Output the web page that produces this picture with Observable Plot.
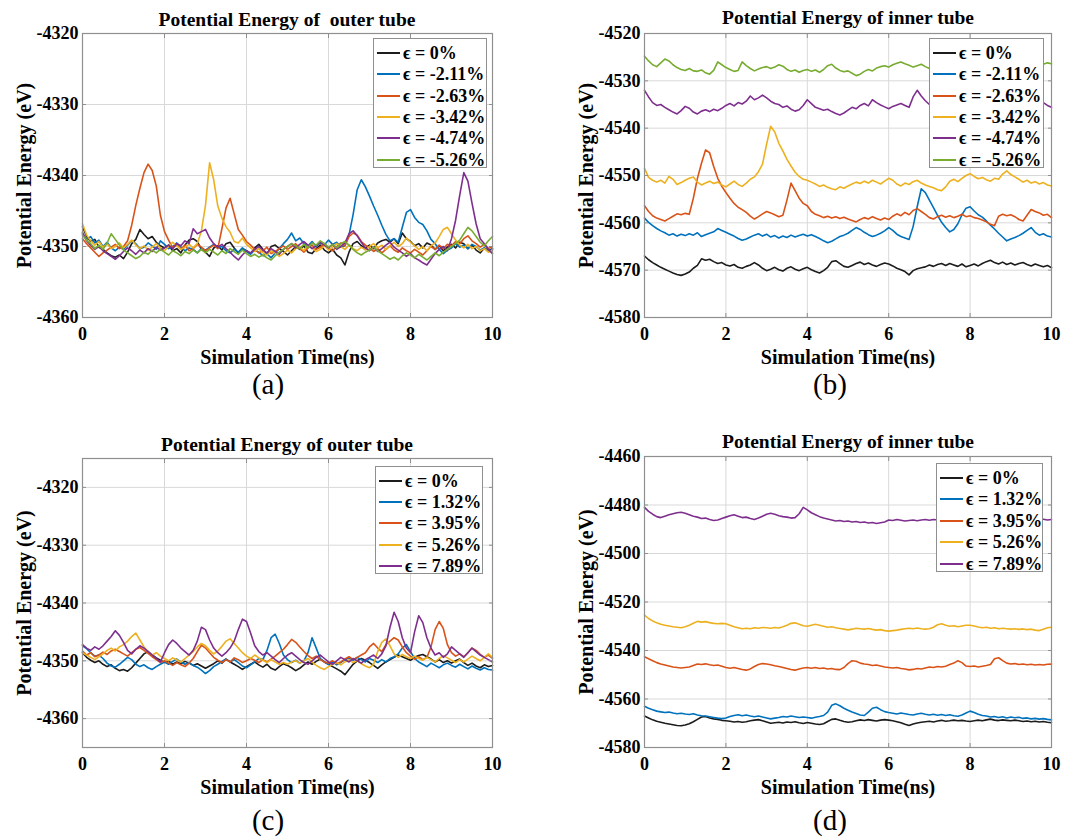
<!DOCTYPE html>
<html>
<head>
<meta charset="utf-8">
<script src="https://cdn.jsdelivr.net/npm/d3@7"></script>
<script src="https://cdn.jsdelivr.net/npm/@observablehq/plot@0.6"></script>
<style>
  html, body { margin: 0; padding: 0; background: #fff; }
  #fig { position: relative; width: 1065px; height: 840px; background: #fff; overflow: hidden;
         font-family: "Liberation Serif", "Times New Roman", "DejaVu Serif", serif; color: #000; }
  .panel { position: absolute; }
  .title { position: absolute; font-weight: bold; font-size: 19.5px; white-space: pre; transform: translate(-50%, -50%);
           font-family: "Liberation Serif", "DejaVu Serif", serif; }
  .tag { position: absolute; font-size: 29px; transform: translate(-50%, -50%);
         font-family: "Liberation Serif", "DejaVu Serif", serif; }
  .legend { position: absolute; background: #fff; border: 1px solid #8f8f8f; box-sizing: border-box; }
  .legend .row { position: absolute; left: 3px; height: 20px; display: flex; align-items: center;
                 font-weight: bold; font-size: 18px; white-space: pre;
                 font-family: "Liberation Serif", "DejaVu Serif", serif; }
  .legend .swatch { display: block; width: 23px; height: 2px; margin-right: 3px; flex: none; }
</style>
</head>
<body>
<div id="fig"></div>
<script>
// Sampling interval of the energy traces (ns); sample i sits at i * timeStepNs.
const timeStepNs = 0.1;
const xTicks = [0, 2, 4, 6, 8, 10];
const seriesColors = ["#1c1c1c", "#0072BD", "#D95319", "#EDB120", "#7E2F8E", "#77AC30"];

// ---- (a) outer tube, compressive strain ----
const strainLabelsCompress = ["0%", "-2.11%", "-2.63%", "-3.42%", "-4.74%", "-5.26%"];
const outerComp0 = [
-4347.2,-4348.6,-4349.3,-4349.0,-4350.1,-4350.4,-4350.9,-4351.3,-4351.5,-4351.2,
-4351.7,-4350.8,-4349.6,-4349.0,-4347.6,-4348.3,-4348.9,-4348.6,-4349.4,-4349.9,
-4350.2,-4349.8,-4350.6,-4350.3,-4350.9,-4349.8,-4349.1,-4348.9,-4349.3,-4350.4,
-4350.8,-4351.4,-4350.2,-4349.9,-4350.5,-4349.6,-4349.4,-4350.2,-4350.9,-4350.3,
-4350.6,-4351.0,-4350.2,-4349.7,-4350.4,-4351.1,-4350.0,-4349.8,-4350.3,-4350.7,
-4351.2,-4350.6,-4350.0,-4350.4,-4349.9,-4350.8,-4351.0,-4350.3,-4349.8,-4350.5,
-4350.9,-4350.4,-4351.2,-4351.6,-4352.6,-4350.8,-4349.6,-4349.3,-4349.9,-4350.2,
-4349.8,-4350.3,-4349.5,-4349.2,-4349.0,-4349.4,-4348.9,-4349.6,-4348.1,-4348.9,
-4349.3,-4349.9,-4349.6,-4350.2,-4349.5,-4349.8,-4350.4,-4349.9,-4350.6,-4350.1,
-4349.7,-4350.2,-4349.4,-4349.6,-4350.3,-4349.8,-4350.5,-4350.9,-4350.2,-4350.6,
-4350.3];
const outerComp211 = [
-4348.2,-4349.0,-4348.6,-4349.5,-4349.1,-4350.0,-4349.4,-4350.2,-4350.6,-4350.1,
-4350.4,-4349.8,-4349.2,-4349.6,-4350.3,-4350.1,-4349.5,-4349.9,-4350.4,-4349.2,
-4349.7,-4350.3,-4350.0,-4349.5,-4350.1,-4350.6,-4350.2,-4350.4,-4350.9,-4350.3,
-4350.5,-4350.1,-4349.7,-4350.2,-4350.0,-4350.6,-4350.9,-4350.4,-4350.8,-4350.2,
-4350.7,-4351.1,-4350.5,-4350.8,-4351.3,-4351.0,-4351.6,-4350.9,-4350.3,-4349.6,
-4349.0,-4348.1,-4349.2,-4348.8,-4349.6,-4349.9,-4349.3,-4350.0,-4349.5,-4349.8,
-4349.1,-4349.7,-4349.4,-4350.1,-4349.9,-4348.4,-4345.5,-4342.0,-4340.6,-4341.6,
-4342.9,-4344.3,-4345.6,-4347.0,-4348.3,-4349.2,-4348.9,-4349.4,-4347.3,-4345.2,
-4344.8,-4345.9,-4346.6,-4346.9,-4347.8,-4349.0,-4349.6,-4350.4,-4351.0,-4350.5,
-4350.2,-4349.6,-4350.1,-4349.8,-4350.3,-4349.7,-4350.0,-4350.5,-4350.2,-4350.7,
-4350.4];
const outerComp263 = [
-4348.9,-4349.6,-4350.2,-4350.8,-4351.4,-4350.9,-4350.5,-4350.1,-4349.7,-4350.3,
-4350.0,-4349.2,-4347.0,-4344.2,-4341.8,-4339.6,-4338.4,-4339.3,-4341.5,-4345.6,
-4347.9,-4349.1,-4350.2,-4349.7,-4350.4,-4349.8,-4350.6,-4350.3,-4349.7,-4350.1,
-4350.6,-4350.2,-4349.8,-4350.3,-4347.5,-4344.6,-4343.2,-4345.4,-4347.6,-4348.4,
-4349.3,-4349.8,-4350.4,-4350.9,-4350.6,-4350.1,-4351.0,-4350.7,-4350.3,-4349.9,
-4350.4,-4350.0,-4349.6,-4350.3,-4350.8,-4350.2,-4349.8,-4350.4,-4350.1,-4349.6,
-4350.2,-4350.6,-4350.0,-4349.5,-4349.9,-4348.6,-4348.1,-4348.4,-4349.3,-4349.8,
-4350.2,-4350.7,-4350.3,-4350.9,-4350.4,-4349.9,-4350.5,-4350.8,-4350.2,-4350.6,
-4350.9,-4350.4,-4350.8,-4351.2,-4350.6,-4350.0,-4350.4,-4349.8,-4350.3,-4349.7,
-4349.9,-4349.3,-4349.6,-4348.9,-4348.5,-4349.2,-4349.6,-4350.1,-4349.7,-4350.3,
-4350.0];
const outerComp342 = [
-4346.8,-4348.4,-4349.2,-4349.8,-4349.3,-4350.1,-4349.6,-4350.3,-4350.0,-4349.5,
-4350.2,-4349.7,-4349.1,-4349.8,-4350.3,-4349.9,-4350.5,-4350.1,-4349.6,-4350.2,
-4350.6,-4350.0,-4349.4,-4349.9,-4350.4,-4350.1,-4349.7,-4350.2,-4349.6,-4347.8,
-4344.2,-4338.2,-4340.6,-4344.3,-4346.0,-4347.2,-4348.0,-4349.3,-4349.5,-4348.8,
-4349.7,-4350.2,-4350.7,-4350.3,-4350.9,-4351.2,-4350.6,-4350.9,-4351.4,-4351.0,
-4350.5,-4350.9,-4350.3,-4350.0,-4350.6,-4349.8,-4350.2,-4350.7,-4350.4,-4349.9,
-4350.5,-4350.1,-4349.6,-4350.0,-4350.4,-4349.8,-4350.3,-4350.6,-4350.1,-4350.5,
-4350.0,-4349.6,-4350.2,-4349.8,-4350.4,-4349.9,-4349.4,-4350.0,-4349.6,-4348.8,
-4349.4,-4349.9,-4350.4,-4350.0,-4350.6,-4349.9,-4349.5,-4348.6,-4347.6,-4347.3,
-4348.2,-4349.1,-4349.8,-4350.2,-4349.7,-4350.3,-4350.0,-4350.6,-4350.3,-4350.8,
-4350.5];
const outerComp474 = [
-4348.0,-4349.2,-4349.8,-4350.4,-4350.0,-4350.6,-4351.0,-4351.4,-4351.8,-4351.3,
-4350.7,-4350.2,-4350.6,-4351.1,-4350.5,-4350.9,-4350.3,-4350.7,-4350.1,-4350.5,
-4350.2,-4349.8,-4350.3,-4349.6,-4349.9,-4349.2,-4349.6,-4347.5,-4348.2,-4347.9,
-4347.6,-4348.8,-4349.6,-4350.1,-4349.7,-4350.3,-4350.8,-4351.4,-4351.9,-4351.2,
-4350.6,-4350.9,-4350.4,-4350.0,-4350.5,-4350.9,-4350.3,-4350.7,-4351.1,-4350.4,
-4350.0,-4349.6,-4350.2,-4349.7,-4349.3,-4349.8,-4350.3,-4349.9,-4349.4,-4349.8,
-4350.2,-4349.7,-4350.4,-4350.0,-4349.5,-4348.2,-4347.8,-4348.5,-4349.4,-4350.2,
-4350.6,-4350.1,-4350.7,-4350.3,-4349.8,-4349.4,-4350.1,-4350.5,-4350.9,-4351.4,
-4351.0,-4351.6,-4351.9,-4352.3,-4352.6,-4351.8,-4351.0,-4350.4,-4350.0,-4350.6,
-4348.9,-4346.3,-4342.8,-4339.6,-4340.8,-4343.9,-4346.8,-4348.9,-4349.6,-4350.4,
-4351.0];
const outerComp526 = [
-4348.4,-4349.1,-4349.6,-4350.3,-4349.8,-4350.4,-4349.5,-4348.2,-4349.0,-4349.8,
-4350.5,-4350.9,-4351.3,-4351.7,-4351.4,-4350.8,-4351.1,-4350.5,-4350.9,-4350.4,
-4350.8,-4351.2,-4350.6,-4350.9,-4351.3,-4350.7,-4351.0,-4350.5,-4350.9,-4350.4,
-4350.9,-4350.4,-4350.8,-4351.2,-4350.6,-4351.0,-4350.3,-4350.7,-4351.1,-4350.5,
-4351.0,-4351.4,-4351.1,-4351.5,-4351.2,-4351.6,-4351.9,-4351.3,-4350.8,-4350.4,
-4350.0,-4349.6,-4349.9,-4350.3,-4349.7,-4350.2,-4349.5,-4349.8,-4349.2,-4349.6,
-4350.1,-4349.7,-4350.2,-4349.6,-4349.3,-4349.8,-4350.4,-4350.9,-4351.2,-4350.8,
-4350.5,-4350.1,-4350.6,-4351.0,-4351.4,-4351.8,-4351.5,-4351.9,-4351.3,-4350.9,
-4351.2,-4351.6,-4351.1,-4351.5,-4351.9,-4351.4,-4350.9,-4351.3,-4350.8,-4350.4,
-4350.0,-4349.6,-4349.1,-4348.2,-4347.3,-4347.8,-4348.6,-4349.4,-4349.9,-4349.2,
-4348.6];

// ---- (b) inner tube, compressive strain ----
const innerComp0 = [
-4567.0,-4567.8,-4568.4,-4568.9,-4569.4,-4569.8,-4570.2,-4570.6,-4570.9,-4571.1,
-4570.8,-4570.4,-4569.6,-4569.0,-4567.6,-4567.9,-4567.7,-4568.2,-4568.6,-4568.4,
-4568.9,-4569.1,-4568.8,-4569.4,-4569.6,-4569.2,-4568.9,-4568.4,-4568.9,-4569.6,
-4570.1,-4569.8,-4569.4,-4569.9,-4570.2,-4569.6,-4569.3,-4569.8,-4570.1,-4569.7,
-4569.4,-4569.9,-4570.3,-4570.6,-4570.1,-4569.4,-4568.2,-4568.0,-4568.6,-4569.2,
-4569.4,-4569.0,-4568.6,-4568.3,-4568.8,-4568.5,-4568.9,-4569.2,-4568.8,-4568.5,
-4568.7,-4569.1,-4569.6,-4569.9,-4570.3,-4571.0,-4570.1,-4569.7,-4569.5,-4569.3,
-4568.9,-4569.2,-4568.8,-4568.6,-4569.0,-4568.6,-4568.9,-4569.2,-4568.7,-4569.3,
-4569.0,-4568.7,-4569.1,-4568.6,-4568.2,-4567.9,-4568.4,-4568.7,-4568.3,-4568.8,
-4568.5,-4568.9,-4568.6,-4568.4,-4568.8,-4569.1,-4568.7,-4569.0,-4569.3,-4569.0,
-4569.5];
const innerComp211 = [
-4559.0,-4559.9,-4560.6,-4561.2,-4561.7,-4562.1,-4562.6,-4562.3,-4562.8,-4562.4,
-4562.7,-4562.3,-4562.6,-4562.1,-4562.9,-4562.5,-4562.2,-4561.9,-4561.2,-4561.6,
-4562.0,-4562.4,-4562.8,-4563.3,-4563.7,-4563.4,-4563.0,-4562.6,-4562.3,-4562.8,
-4562.4,-4563.0,-4562.7,-4563.2,-4562.8,-4563.1,-4562.6,-4563.0,-4562.7,-4562.4,
-4562.8,-4562.5,-4562.9,-4563.3,-4563.8,-4564.2,-4563.9,-4563.4,-4562.9,-4562.6,
-4562.2,-4561.6,-4561.0,-4561.4,-4562.0,-4562.5,-4562.9,-4562.6,-4562.2,-4561.7,
-4561.0,-4561.6,-4562.4,-4562.9,-4563.2,-4563.5,-4560.8,-4556.6,-4552.8,-4553.6,
-4555.2,-4556.8,-4558.4,-4559.9,-4561.0,-4561.9,-4561.4,-4560.2,-4558.3,-4556.9,
-4556.6,-4557.5,-4558.3,-4558.8,-4559.6,-4560.5,-4561.3,-4562.2,-4563.0,-4563.8,
-4563.4,-4563.1,-4562.7,-4562.2,-4561.6,-4561.0,-4562.0,-4562.6,-4562.3,-4562.8,
-4563.0];
const innerComp263 = [
-4556.4,-4557.6,-4558.5,-4559.0,-4559.3,-4559.6,-4559.1,-4558.6,-4558.1,-4558.3,
-4558.0,-4558.2,-4554.8,-4550.6,-4547.4,-4544.6,-4545.2,-4548.1,-4550.6,-4552.3,
-4553.6,-4554.8,-4555.9,-4556.7,-4557.2,-4557.8,-4558.6,-4559.2,-4558.7,-4558.1,
-4557.6,-4557.9,-4558.3,-4558.7,-4558.4,-4555.2,-4551.6,-4553.2,-4554.8,-4555.9,
-4556.4,-4557.6,-4558.2,-4558.5,-4558.9,-4558.6,-4559.0,-4558.7,-4559.1,-4558.8,
-4559.2,-4559.5,-4559.8,-4559.3,-4558.9,-4559.2,-4558.7,-4559.1,-4559.4,-4559.0,
-4559.3,-4558.6,-4558.1,-4558.5,-4557.8,-4558.3,-4557.4,-4557.0,-4557.6,-4558.2,
-4558.9,-4559.2,-4558.7,-4558.4,-4558.8,-4558.5,-4558.9,-4558.6,-4558.2,-4558.7,
-4558.5,-4558.9,-4559.1,-4559.4,-4559.8,-4560.3,-4560.6,-4558.6,-4558.2,-4558.5,
-4558.3,-4558.7,-4559.3,-4559.6,-4558.4,-4557.2,-4557.6,-4557.9,-4558.4,-4558.2,
-4558.9];
const innerComp342 = [
-4548.5,-4550.4,-4551.0,-4551.4,-4551.0,-4551.6,-4550.2,-4550.8,-4551.9,-4551.5,
-4551.0,-4550.6,-4550.3,-4551.4,-4552.0,-4551.6,-4551.2,-4551.7,-4551.4,-4552.0,
-4552.4,-4551.8,-4551.2,-4551.9,-4552.3,-4551.6,-4550.8,-4550.3,-4549.2,-4547.6,
-4543.4,-4539.6,-4540.8,-4543.2,-4544.8,-4546.6,-4548.0,-4549.3,-4550.2,-4550.8,
-4551.0,-4551.4,-4551.8,-4552.3,-4552.0,-4552.5,-4552.8,-4553.0,-4552.4,-4552.7,
-4552.2,-4551.8,-4551.4,-4551.7,-4551.2,-4551.6,-4551.0,-4551.4,-4551.8,-4551.2,
-4550.6,-4551.0,-4551.8,-4552.2,-4551.6,-4551.9,-4551.3,-4551.0,-4551.6,-4552.0,
-4552.3,-4552.6,-4553.0,-4553.2,-4552.4,-4551.2,-4550.8,-4551.3,-4550.6,-4550.0,
-4549.6,-4550.2,-4550.7,-4550.4,-4550.9,-4551.2,-4550.6,-4550.8,-4549.7,-4549.0,
-4549.8,-4550.3,-4550.8,-4551.4,-4551.0,-4551.6,-4551.3,-4551.8,-4551.5,-4552.0,
-4552.2];
const innerComp474 = [
-4532.0,-4533.4,-4534.6,-4535.2,-4535.0,-4535.6,-4536.1,-4536.6,-4537.0,-4536.3,
-4535.4,-4535.8,-4536.6,-4537.0,-4536.4,-4536.1,-4536.5,-4536.0,-4536.3,-4535.8,
-4535.2,-4534.8,-4535.3,-4534.6,-4534.9,-4534.3,-4533.2,-4534.0,-4533.6,-4533.0,
-4533.6,-4534.3,-4534.8,-4535.0,-4535.6,-4535.3,-4536.0,-4536.4,-4536.1,-4535.2,
-4534.0,-4534.8,-4535.6,-4535.9,-4536.2,-4536.0,-4536.5,-4536.9,-4537.2,-4536.8,
-4536.2,-4535.6,-4535.9,-4535.2,-4534.8,-4535.3,-4534.0,-4534.6,-4535.1,-4535.5,
-4535.9,-4535.4,-4535.1,-4534.8,-4535.2,-4535.6,-4533.4,-4532.0,-4533.2,-4534.2,
-4535.0,-4535.4,-4535.8,-4535.2,-4535.6,-4535.0,-4534.6,-4535.2,-4535.5,-4534.9,
-4534.4,-4534.8,-4535.3,-4535.0,-4534.6,-4535.1,-4535.4,-4534.8,-4534.2,-4534.6,
-4535.0,-4534.4,-4533.8,-4534.3,-4534.0,-4533.6,-4533.2,-4533.8,-4534.6,-4535.2,
-4535.6];
const innerComp526 = [
-4524.8,-4525.8,-4526.6,-4527.0,-4526.2,-4525.4,-4525.8,-4526.6,-4527.2,-4527.6,
-4527.8,-4527.4,-4527.9,-4528.0,-4527.7,-4528.3,-4528.6,-4527.8,-4526.0,-4526.6,
-4527.2,-4527.6,-4528.0,-4527.8,-4526.0,-4526.8,-4527.4,-4527.9,-4527.5,-4527.2,
-4527.0,-4527.4,-4527.1,-4526.6,-4526.9,-4527.6,-4528.0,-4527.7,-4528.2,-4527.8,
-4527.6,-4528.0,-4527.7,-4528.2,-4527.6,-4526.8,-4526.5,-4527.3,-4527.8,-4528.1,
-4527.9,-4528.4,-4528.9,-4528.6,-4528.0,-4527.6,-4527.9,-4527.3,-4527.0,-4526.8,
-4527.1,-4526.6,-4526.3,-4526.0,-4526.4,-4526.7,-4527.1,-4526.8,-4526.5,-4527.0,
-4527.4,-4527.8,-4527.2,-4527.6,-4528.0,-4527.5,-4527.1,-4527.4,-4527.0,-4526.6,
-4527.0,-4527.4,-4527.1,-4526.8,-4527.2,-4527.6,-4527.3,-4526.9,-4527.2,-4527.5,
-4527.1,-4526.8,-4527.3,-4527.0,-4526.6,-4527.0,-4527.4,-4527.1,-4526.5,-4526.2,
-4526.4];

// ---- (c) outer tube, tensile strain ----
const strainLabelsTension = ["0%", "1.32%", "3.95%", "5.26%", "7.89%"];
const outerTens0 = [
-4348.6,-4349.4,-4349.9,-4350.3,-4350.0,-4350.6,-4351.0,-4350.7,-4351.3,-4351.7,
-4351.5,-4351.8,-4351.2,-4350.4,-4349.6,-4348.8,-4348.4,-4349.0,-4349.5,-4349.9,
-4350.3,-4350.0,-4350.6,-4350.2,-4350.5,-4350.1,-4350.4,-4350.8,-4350.5,-4350.9,
-4351.3,-4350.9,-4350.5,-4350.0,-4350.4,-4349.7,-4350.2,-4350.6,-4351.0,-4351.5,
-4351.0,-4350.6,-4350.2,-4350.7,-4351.1,-4350.6,-4351.3,-4351.6,-4351.0,-4350.5,
-4350.8,-4351.2,-4351.7,-4351.3,-4350.7,-4350.2,-4350.6,-4350.1,-4349.7,-4350.2,
-4350.6,-4351.0,-4351.4,-4351.8,-4352.4,-4351.5,-4350.6,-4350.0,-4349.6,-4349.9,
-4350.3,-4350.8,-4351.3,-4350.7,-4350.2,-4349.8,-4349.4,-4349.0,-4349.3,-4349.6,
-4349.9,-4349.4,-4349.1,-4348.9,-4349.3,-4349.7,-4350.2,-4349.8,-4350.3,-4350.0,
-4350.4,-4350.0,-4349.7,-4350.3,-4350.8,-4350.4,-4350.9,-4351.2,-4350.7,-4351.0,
-4350.8];
const outerTens132 = [
-4347.4,-4347.9,-4348.6,-4349.2,-4349.0,-4349.6,-4350.4,-4350.9,-4351.1,-4350.6,
-4350.0,-4349.4,-4349.8,-4350.6,-4351.0,-4350.7,-4351.2,-4351.5,-4351.0,-4350.6,
-4350.2,-4350.6,-4350.1,-4349.7,-4350.2,-4350.6,-4350.3,-4350.8,-4351.1,-4351.6,
-4352.2,-4351.7,-4351.0,-4350.6,-4350.1,-4349.7,-4350.2,-4349.8,-4350.3,-4350.9,
-4351.2,-4350.7,-4350.2,-4349.6,-4349.8,-4348.2,-4346.0,-4345.4,-4347.0,-4349.0,
-4349.8,-4350.3,-4349.9,-4350.4,-4350.0,-4348.6,-4346.0,-4347.8,-4349.6,-4350.2,
-4350.6,-4350.2,-4350.7,-4350.3,-4349.8,-4349.5,-4349.9,-4349.4,-4349.8,-4350.2,
-4349.6,-4349.9,-4350.3,-4349.8,-4350.2,-4349.6,-4349.3,-4348.8,-4347.8,-4347.2,
-4348.4,-4349.6,-4350.2,-4350.6,-4351.0,-4350.4,-4350.8,-4351.2,-4350.7,-4350.4,
-4350.8,-4351.1,-4350.6,-4351.0,-4351.4,-4350.9,-4351.3,-4351.6,-4351.2,-4351.5,
-4351.6];
const outerTens395 = [
-4348.3,-4349.0,-4348.6,-4349.3,-4349.0,-4348.5,-4348.9,-4348.3,-4348.0,-4348.4,
-4348.8,-4349.2,-4348.6,-4348.0,-4347.7,-4348.2,-4348.7,-4349.3,-4349.8,-4350.3,
-4350.0,-4350.4,-4350.8,-4350.3,-4350.7,-4351.0,-4350.4,-4349.6,-4348.4,-4347.3,
-4347.8,-4348.6,-4349.4,-4349.9,-4350.3,-4349.8,-4350.2,-4349.5,-4349.8,-4350.3,
-4350.0,-4349.6,-4349.9,-4350.3,-4349.8,-4350.2,-4349.7,-4349.2,-4348.6,-4348.0,
-4347.2,-4346.3,-4346.8,-4347.6,-4348.4,-4349.1,-4349.6,-4349.2,-4349.8,-4350.2,
-4350.4,-4350.0,-4350.5,-4350.2,-4349.7,-4349.3,-4349.8,-4349.4,-4349.0,-4348.6,
-4347.6,-4347.0,-4347.8,-4348.4,-4347.2,-4346.6,-4346.0,-4346.4,-4347.6,-4348.6,
-4349.2,-4349.7,-4349.3,-4349.8,-4349.4,-4347.6,-4344.6,-4343.2,-4344.4,-4347.2,
-4348.6,-4349.2,-4348.8,-4349.3,-4348.6,-4347.8,-4348.2,-4348.9,-4349.4,-4349.0,
-4349.6];
const outerTens526 = [
-4348.6,-4349.0,-4349.4,-4349.8,-4349.3,-4348.8,-4348.2,-4347.8,-4348.3,-4347.6,
-4347.2,-4346.6,-4345.8,-4345.2,-4346.4,-4347.6,-4348.4,-4349.0,-4348.6,-4349.2,
-4349.6,-4350.0,-4349.5,-4349.8,-4350.2,-4349.6,-4349.0,-4348.4,-4347.6,-4347.0,
-4347.4,-4348.2,-4348.8,-4348.3,-4347.5,-4346.6,-4346.2,-4347.0,-4347.8,-4348.6,
-4349.2,-4349.6,-4349.0,-4349.5,-4349.9,-4350.3,-4349.8,-4350.2,-4350.6,-4350.3,
-4350.6,-4350.2,-4350.0,-4350.4,-4350.0,-4349.6,-4350.2,-4350.8,-4351.2,-4351.5,
-4351.0,-4350.6,-4350.3,-4350.7,-4350.2,-4349.8,-4350.3,-4350.0,-4350.5,-4350.9,
-4351.2,-4350.6,-4348.4,-4346.8,-4346.2,-4347.4,-4348.8,-4349.4,-4348.9,-4349.3,
-4349.6,-4349.2,-4349.6,-4349.9,-4349.4,-4349.8,-4350.2,-4349.6,-4349.1,-4349.5,
-4349.9,-4350.3,-4349.8,-4350.2,-4349.7,-4349.2,-4349.6,-4350.0,-4349.4,-4348.8,
-4349.4];
const outerTens789 = [
-4347.2,-4347.8,-4348.2,-4347.6,-4348.0,-4347.4,-4346.6,-4345.8,-4344.8,-4345.6,
-4346.8,-4348.2,-4348.8,-4348.0,-4347.4,-4347.8,-4348.4,-4349.0,-4349.6,-4350.2,
-4348.6,-4347.2,-4346.4,-4347.0,-4347.8,-4348.4,-4349.0,-4348.2,-4346.6,-4344.2,
-4344.6,-4346.4,-4347.8,-4348.6,-4349.2,-4348.6,-4347.8,-4346.6,-4344.6,-4342.8,
-4343.2,-4345.2,-4347.4,-4348.4,-4349.0,-4348.6,-4349.2,-4349.8,-4350.3,-4349.6,
-4349.0,-4348.6,-4349.2,-4349.8,-4350.3,-4350.6,-4350.0,-4349.4,-4349.0,-4349.6,
-4350.2,-4350.6,-4350.0,-4349.4,-4349.8,-4350.2,-4349.6,-4350.0,-4350.4,-4349.8,
-4349.4,-4349.0,-4349.6,-4348.8,-4347.4,-4344.2,-4341.6,-4343.2,-4346.0,-4347.8,
-4348.6,-4345.0,-4342.2,-4343.4,-4346.0,-4347.8,-4349.0,-4348.6,-4349.4,-4348.8,
-4347.6,-4348.2,-4348.8,-4349.4,-4348.6,-4347.8,-4348.4,-4349.0,-4349.4,-4349.8,
-4350.2];

// ---- (d) inner tube, tensile strain ----
const innerTens0 = [
-4567.0,-4567.8,-4568.6,-4569.2,-4569.6,-4570.0,-4570.3,-4570.6,-4570.9,-4571.0,
-4570.7,-4570.2,-4569.4,-4568.4,-4567.4,-4567.2,-4567.8,-4568.2,-4568.4,-4568.8,
-4569.0,-4569.2,-4569.5,-4569.3,-4569.6,-4569.4,-4569.0,-4568.7,-4568.5,-4569.0,
-4569.5,-4570.0,-4569.8,-4569.6,-4569.9,-4569.5,-4569.7,-4569.4,-4569.8,-4570.1,
-4569.7,-4570.0,-4570.3,-4570.5,-4570.2,-4569.3,-4568.4,-4568.2,-4568.8,-4569.3,
-4569.6,-4569.4,-4569.0,-4568.6,-4568.9,-4568.5,-4568.8,-4569.1,-4568.7,-4568.5,
-4568.7,-4569.0,-4569.4,-4569.8,-4570.4,-4570.9,-4570.3,-4569.9,-4569.6,-4569.4,
-4569.2,-4569.5,-4569.1,-4568.8,-4569.2,-4569.0,-4568.7,-4569.0,-4568.8,-4569.1,
-4569.3,-4569.0,-4568.7,-4569.0,-4568.6,-4568.3,-4568.7,-4568.9,-4568.6,-4568.8,
-4569.0,-4568.7,-4569.0,-4569.3,-4569.1,-4569.4,-4569.2,-4569.5,-4569.3,-4569.6,
-4569.8];
const innerTens132 = [
-4563.0,-4563.8,-4564.4,-4565.0,-4565.3,-4565.6,-4565.4,-4565.8,-4566.1,-4565.9,
-4566.2,-4566.4,-4566.1,-4566.6,-4566.9,-4567.0,-4567.3,-4567.6,-4567.9,-4568.1,
-4567.8,-4567.2,-4566.8,-4566.5,-4566.9,-4566.6,-4567.0,-4567.3,-4567.0,-4567.4,
-4567.8,-4568.2,-4567.9,-4567.6,-4567.2,-4567.4,-4567.0,-4567.3,-4567.6,-4567.4,
-4567.6,-4567.9,-4567.5,-4567.2,-4566.8,-4565.4,-4562.6,-4562.0,-4562.8,-4563.8,
-4564.6,-4565.4,-4566.0,-4566.6,-4566.8,-4565.4,-4563.8,-4563.4,-4564.4,-4565.2,
-4565.6,-4565.9,-4566.2,-4565.8,-4566.1,-4566.4,-4566.6,-4566.2,-4565.9,-4566.3,
-4566.6,-4566.3,-4566.7,-4566.4,-4566.8,-4566.5,-4566.9,-4567.1,-4566.6,-4565.8,
-4565.0,-4565.6,-4566.3,-4566.8,-4567.0,-4567.4,-4567.2,-4567.6,-4567.3,-4567.8,
-4567.4,-4567.7,-4567.5,-4568.0,-4567.8,-4568.2,-4568.0,-4568.3,-4568.1,-4568.4,
-4568.6];
const innerTens395 = [
-4542.6,-4543.4,-4544.2,-4545.0,-4545.6,-4546.0,-4546.4,-4546.8,-4547.0,-4547.2,
-4547.0,-4546.8,-4546.2,-4545.6,-4545.8,-4545.5,-4545.9,-4546.2,-4546.0,-4546.5,
-4547.0,-4547.3,-4547.0,-4547.4,-4547.8,-4548.1,-4547.6,-4546.6,-4545.8,-4545.4,
-4545.6,-4545.9,-4546.3,-4546.6,-4547.0,-4547.4,-4547.8,-4548.1,-4547.6,-4547.2,
-4547.0,-4547.3,-4547.0,-4547.4,-4547.2,-4547.6,-4547.4,-4547.8,-4547.9,-4547.0,
-4545.4,-4544.2,-4544.4,-4545.2,-4545.6,-4545.8,-4546.2,-4546.0,-4546.4,-4546.8,
-4547.0,-4547.2,-4547.0,-4547.4,-4547.6,-4548.0,-4547.8,-4547.4,-4547.6,-4547.2,
-4546.8,-4547.0,-4546.6,-4546.8,-4546.5,-4545.8,-4545.2,-4544.2,-4545.0,-4546.4,
-4546.6,-4546.4,-4546.8,-4546.5,-4546.2,-4545.8,-4543.4,-4543.0,-4544.2,-4545.2,
-4545.6,-4545.4,-4545.8,-4545.6,-4545.9,-4545.7,-4546.0,-4545.8,-4546.0,-4545.7,
-4545.6];
const innerTens526 = [
-4525.4,-4526.8,-4527.8,-4528.6,-4529.2,-4529.6,-4529.9,-4530.2,-4530.4,-4530.6,
-4530.2,-4529.6,-4528.8,-4528.0,-4528.3,-4528.1,-4528.5,-4528.8,-4529.0,-4528.8,
-4529.0,-4529.6,-4530.2,-4530.6,-4531.0,-4530.8,-4531.0,-4530.6,-4530.8,-4530.5,
-4530.6,-4530.8,-4530.5,-4530.7,-4530.2,-4529.6,-4528.8,-4528.6,-4529.2,-4529.8,
-4530.0,-4529.6,-4529.2,-4529.6,-4530.0,-4530.4,-4530.2,-4530.6,-4530.9,-4531.2,
-4531.5,-4531.2,-4530.8,-4531.0,-4531.2,-4530.9,-4531.3,-4531.6,-4531.4,-4531.8,
-4532.0,-4531.8,-4531.6,-4531.3,-4531.0,-4530.8,-4531.0,-4530.7,-4531.0,-4531.2,
-4531.0,-4530.4,-4529.4,-4529.0,-4529.6,-4530.0,-4529.8,-4530.2,-4529.9,-4529.6,
-4529.6,-4529.9,-4530.3,-4530.6,-4530.4,-4530.8,-4530.6,-4531.0,-4530.8,-4531.0,
-4531.2,-4531.0,-4531.3,-4531.1,-4531.4,-4531.2,-4531.6,-4531.8,-4531.2,-4530.6,
-4530.4];
const innerTens789 = [
-4481.0,-4482.6,-4483.8,-4484.8,-4485.2,-4484.6,-4484.0,-4483.6,-4483.2,-4483.0,
-4483.4,-4484.0,-4484.6,-4485.0,-4485.6,-4485.4,-4486.0,-4486.4,-4486.2,-4485.6,
-4485.0,-4484.4,-4484.0,-4484.6,-4485.2,-4485.0,-4485.6,-4486.0,-4485.4,-4484.6,
-4483.8,-4483.4,-4483.8,-4484.4,-4484.8,-4485.0,-4485.4,-4485.2,-4483.6,-4481.0,
-4482.0,-4483.2,-4484.0,-4484.8,-4485.4,-4485.8,-4486.2,-4486.6,-4486.4,-4486.8,
-4486.6,-4487.0,-4486.8,-4487.2,-4487.0,-4487.4,-4487.2,-4487.6,-4487.3,-4487.0,
-4486.2,-4486.4,-4486.0,-4486.3,-4486.6,-4486.4,-4486.2,-4486.5,-4486.2,-4486.0,
-4486.3,-4486.0,-4486.2,-4485.8,-4486.1,-4485.9,-4486.2,-4486.0,-4485.8,-4486.1,
-4486.0,-4486.3,-4486.1,-4485.8,-4486.0,-4486.2,-4485.9,-4486.1,-4486.3,-4486.0,
-4485.8,-4486.1,-4486.3,-4486.0,-4485.8,-4486.2,-4486.0,-4485.7,-4485.9,-4486.2,
-4486.0];

// Panel definitions: where each chart sits on the page and what it shows.
const panels = [
  { tag: "(a)", title: "Potential Energy of  outer tube", left: 0, top: 0, width: 510, height: 370,
    margin: [33, 18, 53, 82], yDomain: [-4360, -4320], yTicks: [-4360, -4350, -4340, -4330, -4320],
    labels: strainLabelsCompress,
    series: [outerComp0, outerComp211, outerComp263, outerComp342, outerComp474, outerComp526],
    titleAt: [287, 20], tagAt: [268, 384], legend: [373, 38, 114, 130] },
  { tag: "(b)", title: "Potential Energy of inner tube", left: 560, top: 0, width: 505, height: 370,
    margin: [33, 14, 53, 84], yDomain: [-4580, -4520], yTicks: [-4580, -4570, -4560, -4550, -4540, -4530, -4520],
    labels: strainLabelsCompress,
    series: [innerComp0, innerComp211, innerComp263, innerComp342, innerComp474, innerComp526],
    titleAt: [848, 18], tagAt: [830, 384], legend: [929, 38, 115, 130] },
  { tag: "(c)", title: "Potential Energy of outer tube", left: 0, top: 420, width: 510, height: 385,
    margin: [38, 18, 58, 82], yDomain: [-4365, -4315], yTicks: [-4360, -4350, -4340, -4330, -4320],
    labels: strainLabelsTension,
    series: [outerTens0, outerTens132, outerTens395, outerTens526, outerTens789],
    titleAt: [287, 445], tagAt: [268, 820], legend: [375, 466, 108, 108] },
  { tag: "(d)", title: "Potential Energy of inner tube", left: 560, top: 420, width: 505, height: 385,
    margin: [36, 14, 58, 84], yDomain: [-4580, -4460], yTicks: [-4580, -4560, -4540, -4520, -4500, -4480, -4460],
    labels: strainLabelsTension,
    series: [innerTens0, innerTens132, innerTens395, innerTens526, innerTens789],
    titleAt: [848, 442], tagAt: [830, 820], legend: [936, 463, 107, 109] }
];

const fig = document.getElementById("fig");
const plain = d => String(d);
const noText = () => "";

for (const p of panels) {
  const rows = p.series.flatMap((values, k) =>
    values.map((e, i) => ({ t: i * timeStepNs, e, strain: p.labels[k] })));
  const [mt, mr, mb, ml] = p.margin;

  const chart = Plot.plot({
    width: p.width, height: p.height,
    marginTop: mt, marginRight: mr, marginBottom: mb, marginLeft: ml,
    style: { background: "transparent", overflow: "visible" },
    x: { domain: [0, 10] },
    y: { domain: p.yDomain },
    color: { domain: p.labels, range: seriesColors.slice(0, p.labels.length) },
    marks: [
      Plot.gridX(xTicks, { stroke: "#d9d9d9", strokeOpacity: 1, strokeWidth: 1 }),
      Plot.gridY(p.yTicks, { stroke: "#d9d9d9", strokeOpacity: 1, strokeWidth: 1 }),
      Plot.axisX(xTicks, { anchor: "bottom", tickSize: 0, tickPadding: 10, tickFormat: plain,
        label: "Simulation Time(ns)", labelAnchor: "center", labelArrow: "none", labelOffset: 46 }),
      Plot.axisY(p.yTicks, { anchor: "left", tickSize: 0, tickPadding: 4, tickFormat: plain,
        label: "Potential Energy (eV)", labelAnchor: "center", labelArrow: "none", labelOffset: 66 }),
      Plot.lineY(rows, { x: "t", y: "e", stroke: "strain", z: "strain", strokeWidth: 1.6 }),
      // short inward ticks on all four sides
      Plot.axisX(xTicks, { anchor: "bottom", tickSize: -4, tickFormat: noText, label: null, stroke: "#8f8f8f" }),
      Plot.axisX(xTicks, { anchor: "top", tickSize: -4, tickFormat: noText, label: null, stroke: "#8f8f8f" }),
      Plot.axisY(p.yTicks, { anchor: "left", tickSize: -4, tickFormat: noText, label: null, stroke: "#8f8f8f" }),
      Plot.axisY(p.yTicks, { anchor: "right", tickSize: -4, tickFormat: noText, label: null, stroke: "#8f8f8f" }),
      Plot.frame({ stroke: "#8f8f8f", strokeWidth: 1.2 })
    ]
  });
  // serif bold type: tick labels, and somewhat larger axis titles
  chart.querySelectorAll("text").forEach(el => {
    el.style.fontFamily = '"Liberation Serif", "DejaVu Serif", serif';
    el.style.fontWeight = "bold";
    el.style.fontSize = "18px";
    el.style.fill = "#000";
  });
  chart.querySelectorAll('g[aria-label$="axis label"] text').forEach(el => {
    el.style.fontSize = "20px";
  });
  chart.classList.add("panel");
  chart.style.left = p.left + "px";
  chart.style.top = p.top + "px";
  fig.appendChild(chart);

  const title = document.createElement("div");
  title.className = "title";
  title.textContent = p.title;
  title.style.left = p.titleAt[0] + "px";
  title.style.top = p.titleAt[1] + "px";
  fig.appendChild(title);

  const tag = document.createElement("div");
  tag.className = "tag";
  tag.textContent = p.tag;
  tag.style.left = p.tagAt[0] + "px";
  tag.style.top = p.tagAt[1] + "px";
  fig.appendChild(tag);

  // legend box in the upper right corner of the plot area
  const [lx, ly, lw, lh] = p.legend;
  const box = document.createElement("div");
  box.className = "legend";
  Object.assign(box.style, { left: lx + "px", top: ly + "px", width: lw + "px", height: lh + "px" });
  const step = (lh - 2) / p.labels.length;
  p.labels.forEach((lab, k) => {
    const row = document.createElement("div");
    row.className = "row";
    row.style.top = Math.round(4 + k * step) + "px";
    const sw = document.createElement("span");
    sw.className = "swatch";
    sw.style.background = seriesColors[k];
    const txt = document.createElement("span");
    txt.textContent = "\u03F5 = " + lab;
    row.appendChild(sw);
    row.appendChild(txt);
    box.appendChild(row);
  });
  fig.appendChild(box);
}
</script>
</body>
</html>
